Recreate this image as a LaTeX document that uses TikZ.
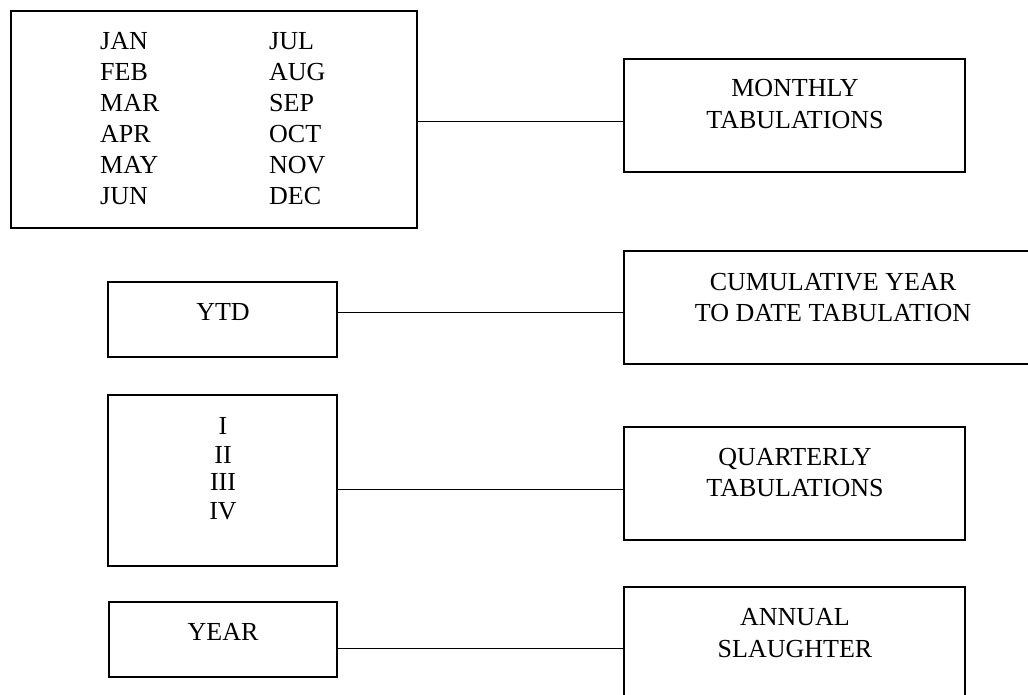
\documentclass[tikz,border=0pt]{standalone}
\usepackage{fontspec}
\setmainfont{Liberation Serif}
\begin{document}
\begin{tikzpicture}[x=1pt,y=-1pt,
  box/.style={draw, line width=1.8pt, inner sep=0pt, outer sep=0pt},
  lbl/.style={font=\fontsize{26}{31}\selectfont, inner sep=0pt, anchor=base},
  lblw/.style={font=\fontsize{26}{31}\selectfont, inner sep=0pt, anchor=base west},
  link/.style={line width=1.3pt}]
\useasboundingbox (0,0) rectangle (1028,694);
% boxes
\node[box, minimum width=406pt, minimum height=216.7pt] (months) at (213.7,119.3) {};
\node[box, minimum width=341pt, minimum height=112.7pt] (monthly) at (794.8,115.3) {};
\node[box, minimum width=228.7pt, minimum height=74.7pt] (ytd) at (222.7,319.7) {};
\node[box, minimum width=417.7pt, minimum height=112.7pt] (cumul) at (833.2,307.3) {};
\node[box, minimum width=228.7pt, minimum height=170.7pt] (roman) at (222.7,480.3) {};
\node[box, minimum width=341pt, minimum height=113pt] (quarter) at (794.8,483.5) {};
\node[box, minimum width=228.3pt, minimum height=74.7pt] (year) at (222.9,639.3) {};
\node[box, minimum width=341pt, minimum height=112.7pt] (annual) at (794.8,643.7) {};
% month texts
\foreach \m [count=\i from 0] in {JAN,FEB,MAR,APR,MAY,JUN}
  \node[lblw] (ml\i) at (100,49+31*\i) {\m};
\foreach \m [count=\i from 0] in {JUL,AUG,SEP,OCT,NOV,DEC}
  \node[lblw] (mr\i) at (269,49+31*\i) {\m};
% other texts
\node[lbl] (t1a) at (795,96.7) {MONTHLY};
\node[lbl] (t1b) at (795,128) {TABULATIONS};
\node[lbl] (t2) at (223,320) {YTD};
\node[lbl] (t3a) at (833,290) {CUMULATIVE YEAR};
\node[lbl] (t3b) at (833,321) {TO DATE TABULATION};
\node[lbl] (r1) at (223,434) {I};
\node[lbl] (r2) at (223,463) {II};
\node[lbl] (r3) at (223,490) {III};
\node[lbl] (r4) at (223,519) {IV};
\node[lbl] (t4a) at (795,465.7) {QUARTERLY};
\node[lbl] (t4b) at (795,496.7) {TABULATIONS};
\node[lbl] (t5) at (223,640.7) {YEAR};
\node[lbl] (t6a) at (795,625.7) {ANNUAL};
\node[lbl] (t6b) at (795,657) {SLAUGHTER};
% connectors
\draw[link] (months.east |- 0,121.5) -- (monthly.west |- 0,121.5);
\draw[link] (ytd.east |- 0,312.5) -- (cumul.west |- 0,312.5);
\draw[link] (roman.east |- 0,489.5) -- (quarter.west |- 0,489.5);
\draw[link] (year.east |- 0,648.5) -- (annual.west |- 0,648.5);
\end{tikzpicture}
\end{document}
